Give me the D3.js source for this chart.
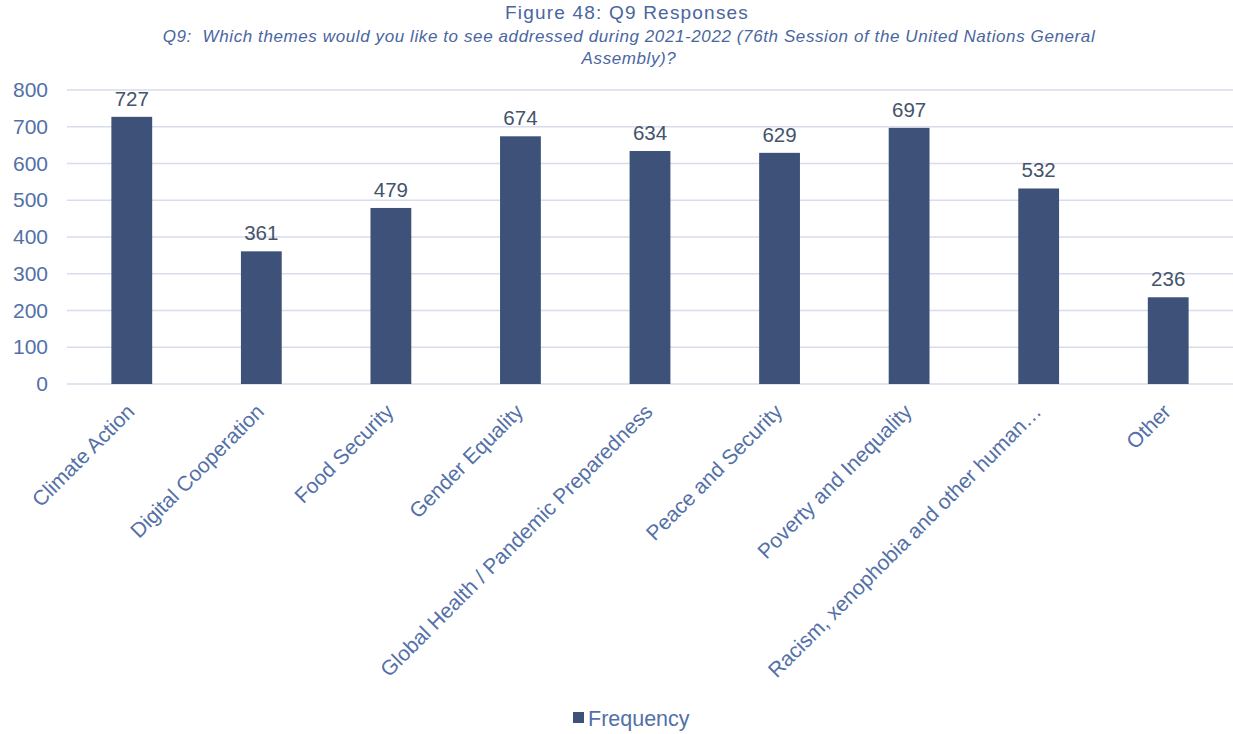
<!DOCTYPE html>
<html>
<head>
<meta charset="utf-8">
<script src="https://cdn.jsdelivr.net/npm/d3@7"></script>
<style>
  html, body { margin: 0; padding: 0; background: #fff; }
  svg { display: block; font-family: "Liberation Sans", Arial, sans-serif; }
</style>
</head>
<body>
<svg id="chart" width="1233" height="734"></svg>
<script>
// Survey responses per theme
const categories = [
  "Climate Action",
  "Digital Cooperation",
  "Food Security",
  "Gender Equality",
  "Global Health / Pandemic Preparedness",
  "Peace and Security",
  "Poverty and Inequality",
  "Racism, xenophobia and other human\u2026",
  "Other"
];
const frequency = [727, 361, 479, 674, 634, 629, 697, 532, 236];
const yTicks = [0, 100, 200, 300, 400, 500, 600, 700, 800];

const titleText = "Figure 48: Q9 Responses";
const subtitleLines = [
  "Q9:  Which themes would you like to see addressed during 2021-2022 (76th Session of the United Nations General",
  "Assembly)?"
];
const seriesName = "Frequency";

const W = 1233;
const plotLeft = 67, plotTop = 90, plotBottom = 384;

const barColor = "#3e5178";
const axisText = "#5370a8";
const valueText = "#44546a";
const titleColor = "#4a66a0";
const gridColor = "#d9dcec";

const svg = d3.select("#chart");

const x = d3.scaleBand()
  .domain(categories)
  .range([plotLeft, W])
  .paddingInner(0.685)
  .paddingOuter(0.3425);

const y = d3.scaleLinear()
  .domain([0, 800])
  .range([plotBottom, plotTop]);

// Horizontal gridlines
svg.append("g")
  .selectAll("line")
  .data(yTicks)
  .join("line")
  .attr("x1", plotLeft)
  .attr("x2", W)
  .attr("y1", d => y(d))
  .attr("y2", d => y(d))
  .attr("stroke", gridColor)
  .attr("stroke-width", 1.3);

// Y axis labels
const yAxis = d3.axisLeft(y).tickValues(yTicks).tickSize(0).tickPadding(19);
const gy = svg.append("g").attr("transform", `translate(${plotLeft},0)`).call(yAxis);
gy.select(".domain").remove();
gy.selectAll("text")
  .attr("fill", axisText)
  .style("font-size", "21px")
  .style("font-family", "Liberation Sans, Arial, sans-serif");

// Bars
svg.append("g")
  .selectAll("rect")
  .data(frequency)
  .join("rect")
  .attr("x", (d, i) => x(categories[i]))
  .attr("y", d => y(d))
  .attr("width", x.bandwidth())
  .attr("height", d => y(0) - y(d))
  .attr("fill", barColor);

// Value labels
svg.append("g")
  .selectAll("text")
  .data(frequency)
  .join("text")
  .attr("x", (d, i) => x(categories[i]) + x.bandwidth() / 2)
  .attr("y", d => y(d) - 11)
  .attr("text-anchor", "middle")
  .attr("fill", valueText)
  .style("font-size", "20.5px")
  .text(d => d);

// X axis labels, rotated
const xAxis = d3.axisBottom(x).tickSize(0).tickPadding(0);
const gx = svg.append("g").attr("transform", `translate(0,${y(0)})`).call(xAxis);
gx.select(".domain").remove();
gx.selectAll("text")
  .attr("fill", axisText)
  .style("font-size", "21px")
  .style("font-family", "Liberation Sans, Arial, sans-serif")
  .attr("text-anchor", "end")
  .attr("dy", null)
  .attr("y", 0)
  .attr("transform", "translate(4,29) rotate(-45)");

// Title and subtitle
svg.append("text")
  .attr("x", 627)
  .attr("y", 19)
  .attr("text-anchor", "middle")
  .attr("fill", titleColor)
  .style("font-size", "19px")
  .style("letter-spacing", "1.2px")
  .text(titleText);

svg.selectAll(".subtitle")
  .data(subtitleLines)
  .join("text")
  .attr("class", "subtitle")
  .attr("x", 629)
  .attr("y", (d, i) => 42 + i * 22)
  .attr("text-anchor", "middle")
  .attr("fill", titleColor)
  .style("font-size", "17px")
  .style("font-style", "italic")
  .style("letter-spacing", "0.6px")
  .style("white-space", "pre")
  .text(d => d);

// Legend
const legend = svg.append("g").attr("transform", "translate(573,718)");
legend.append("rect")
  .attr("x", 0).attr("y", -6)
  .attr("width", 11).attr("height", 11)
  .attr("fill", barColor);
legend.append("text")
  .attr("x", 15).attr("y", 7.5)
  .attr("fill", axisText)
  .style("font-size", "21.5px")
  .text(seriesName);
</script>
</body>
</html>
